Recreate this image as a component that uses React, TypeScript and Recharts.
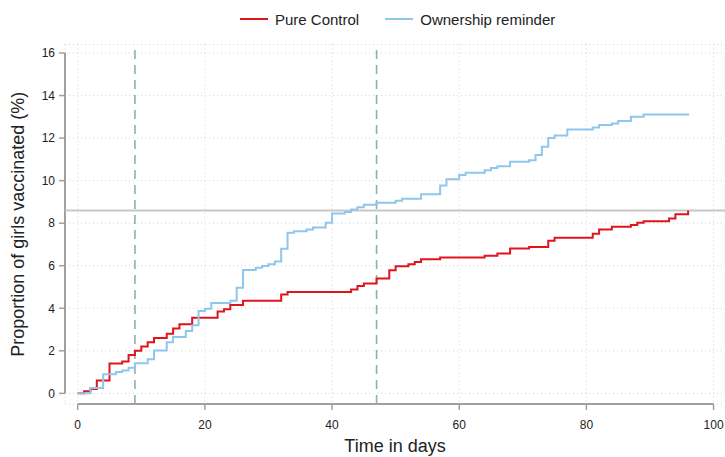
import React from "react";
import {
  LineChart,
  Line,
  XAxis,
  YAxis,
  CartesianGrid,
  ReferenceLine,
  Legend
} from "recharts";

// days since start / cumulative % vaccinated (step points)
const controlDays = [
  0, 1, 2, 3, 5, 7, 8, 9, 10, 11, 12, 14, 15, 16, 18, 22, 23, 24, 26, 32, 33,
  43, 44, 45, 47, 49, 50, 52, 53, 54, 57, 64, 66, 68, 71, 74, 75, 81, 82, 84,
  87, 88, 89, 93, 94, 96
];
const controlValues = [
  0, 0.1, 0.2, 0.6, 1.4, 1.5, 1.8, 2.0, 2.2, 2.4, 2.6, 2.8, 3.05, 3.25, 3.55,
  3.85, 3.95, 4.15, 4.35, 4.65, 4.77, 4.88, 5.05, 5.16, 5.4, 5.79, 5.98, 6.07,
  6.18, 6.3, 6.39, 6.47, 6.57, 6.81, 6.88, 7.18, 7.32, 7.5, 7.7, 7.83, 7.92,
  8.02, 8.09, 8.22, 8.42, 8.6
];

const reminderDays = [
  0, 2, 4, 6, 7, 8, 9, 11, 12, 14, 15, 17, 18, 19, 20, 21, 24, 25, 26, 28, 29,
  30, 31, 32, 33, 34, 36, 37, 39, 40, 42, 43, 44, 45, 47, 50, 51, 54, 57, 58,
  60, 61, 64, 65, 66, 68, 71, 72, 73, 74, 75, 77, 81, 82, 84, 85, 87, 89, 96
];
const reminderValues = [
  0, 0.25, 0.9, 1.0, 1.08, 1.2, 1.42, 1.6, 2.02, 2.4, 2.65, 2.93, 3.2, 3.87,
  3.98, 4.25, 4.35, 4.97, 5.8, 5.9, 5.99, 6.07, 6.2, 6.8, 7.55, 7.62, 7.7,
  7.8, 8.02, 8.46, 8.53, 8.64, 8.75, 8.87, 8.96, 9.05, 9.15, 9.36, 9.77,
  10.07, 10.26, 10.37, 10.49, 10.6, 10.68, 10.89, 10.96, 11.2, 11.59, 12.0,
  12.12, 12.4, 12.5, 12.61, 12.69, 12.8, 13.0, 13.11, 13.16
];

const xTicks = [0, 20, 40, 60, 80, 100];
const yTicks = [0, 2, 4, 6, 8, 10, 12, 14, 16];
const cutoffDays = [9, 47];
const controlFinal = 8.6;

const FONT = "'Liberation Sans Narrow', 'Arial Narrow', 'Liberation Sans', sans-serif";
const RED = "#e0141c";
const BLUE = "#8ec6ec";

const toPoints = (days: number[], values: number[]) =>
  days.map((d, i) => ({ day: d, value: values[i] }));

const controlData = toPoints(controlDays, controlValues);
const reminderData = toPoints(reminderDays, reminderValues);

const X_MIN = -2;
const X_MAX = 101.8;
const Y_MIN = -0.5;
const Y_MAX = 16.4;

const legendItems = [
  { name: "Pure Control", color: RED },
  { name: "Ownership reminder", color: BLUE }
];

const renderLegend = () => (
  <div
    style={{
      display: "flex",
      paddingLeft: 240,
      fontFamily: FONT,
      fontSize: 15,
      color: "#222",
      height: 20,
      alignItems: "center"
    }}
  >
    {legendItems.map((item) => (
      <span
        key={item.name}
        style={{ display: "flex", alignItems: "center", marginRight: 26 }}
      >
        <span
          style={{
            width: 28,
            height: 2,
            background: item.color,
            marginRight: 7,
            display: "inline-block"
          }}
        />
        {item.name}
      </span>
    ))}
  </div>
);

export default function App() {
  return (
    <div style={{ position: "absolute", left: 0, top: 0, background: "#fff" }}>
      <LineChart
        width={725}
        height={457}
        margin={{ top: 24.5, right: 0, bottom: 0, left: 0 }}
      >
        <Legend
          verticalAlign="top"
          content={renderLegend}
          wrapperStyle={{ top: 9, left: 0, width: 725, height: 20 }}
        />
        <CartesianGrid stroke="#d4d4d4" strokeDasharray="1 3" />
        <XAxis
          type="number"
          dataKey="day"
          domain={[X_MIN, X_MAX]}
          allowDataOverflow
          ticks={xTicks}
          height={53}
          axisLine={false}
          tickSize={6}
          tickMargin={10}
          tickLine={{ stroke: "#a0a0a0", strokeWidth: 1.5 }}
          tick={{ fill: "#222", fontSize: 12, fontFamily: FONT }}
          label={{
            value: "Time in days",
            position: "insideBottom",
            offset: 5,
            fill: "#222",
            fontSize: 18,
            fontFamily: FONT
          }}
        />
        <YAxis
          type="number"
          domain={[Y_MIN, Y_MAX]}
          allowDataOverflow
          ticks={yTicks}
          width={65}
          axisLine={false}
          tickSize={6}
          tickMargin={4}
          tickLine={{ stroke: "#a0a0a0", strokeWidth: 1.5 }}
          tick={{ fill: "#222", fontSize: 12, fontFamily: FONT }}
          label={{
            value: "Proportion of girls vaccinated (%)",
            angle: -90,
            position: "insideLeft",
            offset: 18,
            style: { textAnchor: "middle" },
            fill: "#222",
            fontSize: 18,
            fontFamily: FONT
          }}
        />
        <ReferenceLine
          segment={[
            { x: xTicks[0], y: Y_MIN },
            { x: xTicks[xTicks.length - 1], y: Y_MIN }
          ]}
          stroke="#a0a0a0"
          strokeWidth={2}
        />
        <ReferenceLine
          segment={[
            { x: X_MIN, y: yTicks[0] },
            { x: X_MIN, y: yTicks[yTicks.length - 1] }
          ]}
          stroke="#a0a0a0"
          strokeWidth={2}
        />
        {cutoffDays.map((d) => (
          <ReferenceLine
            key={d}
            x={d}
            stroke="#8fb0ac"
            strokeWidth={1.6}
            strokeDasharray="9 6"
          />
        ))}
        <ReferenceLine y={controlFinal} stroke="#c8c8c8" strokeWidth={2} />
        <Line
          data={controlData}
          dataKey="value"
          name="Pure Control"
          type="stepAfter"
          stroke={RED}
          strokeWidth={2}
          dot={false}
          isAnimationActive={false}
        />
        <Line
          data={reminderData}
          dataKey="value"
          name="Ownership reminder"
          type="stepAfter"
          stroke={BLUE}
          strokeWidth={2}
          dot={false}
          isAnimationActive={false}
        />
      </LineChart>
    </div>
  );
}
